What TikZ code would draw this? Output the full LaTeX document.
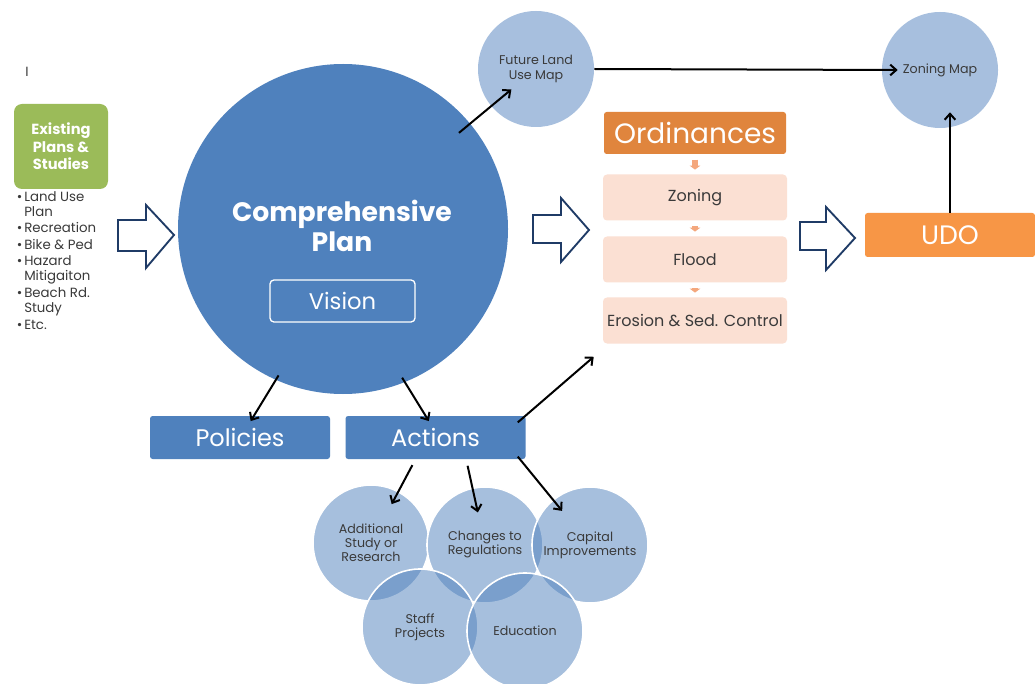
\documentclass[tikz,border=0pt]{standalone}
\usepackage{fontspec}
\setmainfont{Poppins}
\usetikzlibrary{arrows.meta}
\definecolor{planblue}{HTML}{4F81BD}
\definecolor{mapblue}{HTML}{A7BFDE}
\definecolor{studygreen}{HTML}{9BBB59}
\definecolor{ordorange}{HTML}{E0853D}
\definecolor{udoorange}{HTML}{F79646}
\definecolor{ordpeach}{HTML}{FBE0D3}
\definecolor{navyline}{HTML}{1F3B66}
\definecolor{tiporange}{HTML}{F4A77C}
\definecolor{inktext}{HTML}{3A3A3A}
\newcommand{\studybullet}{\llap{\fontsize{10}{10}\selectfont\textbullet\hspace{1.5pt}}}
\tikzset{
  arr/.style={-{Straight Barb[length=4.5pt,width=8pt]}, line width=1.5pt},
  bluebox/.style={fill=planblue, text=white, rounded corners=2pt, minimum width=135pt,
    minimum height=32.25pt, inner sep=0pt, font=\fontsize{18}{20}\selectfont},
  ordbox/.style={fill=ordpeach, text=inktext, rounded corners=3pt, minimum width=138pt,
    minimum height=34.5pt, inner sep=0pt, font=\fontsize{12}{14}\selectfont},
  mapcirc/.style={circle, fill=mapblue, minimum size=87pt, inner sep=0pt, text=inktext,
    align=center, font=\fontsize{9.5}{11.25}\selectfont},
  actcirc/.style={circle, fill=planblue, fill opacity=0.5, text opacity=1, draw=white,
    line width=1.2pt, minimum size=87pt, inner sep=0pt, text=inktext, align=center,
    font=\fontsize{9.5}{10.5}\selectfont},
  hollow/.style={draw=navyline, line width=1.4pt, fill=white, line join=miter},
  ordtip/.style={-{Triangle[length=3pt,width=8pt]}, line width=5pt, draw=tiporange,
    shorten <=4pt, shorten >=3.5pt},
}
\begin{document}
\begin{tikzpicture}[x=0.75pt,y=-0.75pt]
\fill[white] (0,0) rectangle (1035,684);
\useasboundingbox (0,0) rectangle (1035,684);

% left column
\node[text=inktext, font=\fontsize{10}{10}\selectfont] (cursor) at (27,72) {I};
\node[fill=studygreen, rounded corners=6pt, minimum width=70.5pt, minimum height=63.75pt,
  inner sep=0pt, text=white, align=center, font=\bfseries\fontsize{11}{13}\selectfont]
  (exist) at (61,146.5) {Existing\\Plans \&\\Studies};
\node[anchor=north west, align=left, inner sep=0pt, text=inktext,
  font=\fontsize{10}{11.25}\selectfont] (studies) at (24,191)
  {\studybullet Land Use\\Plan\\[1.2pt]\studybullet Recreation\\[1.2pt]\studybullet Bike \& Ped\\[1.2pt]
   \studybullet Hazard\\Mitigaiton\\[1.2pt]\studybullet Beach Rd.\\Study\\[1.2pt]\studybullet Etc.};

% comprehensive plan
\node[circle, fill=planblue, minimum size=247.5pt, inner sep=0pt] (comp) at (343,229) {};
\node[text=white, align=center, font=\bfseries\fontsize{20}{22.5}\selectfont]
  (comptitle) at (342,226) {Comprehensive\\Plan};
\node[draw=white, line width=1pt, rounded corners=3pt, minimum width=108.75pt,
  minimum height=31.5pt, inner sep=0pt, text=white, font=\fontsize{17}{20}\selectfont]
  (vision) at (342.5,301) {Vision};
\node[bluebox] (pol) at (240,437.5) {Policies};
\node[bluebox] (act) at (435.5,437.5) {Actions};

% maps
\node[mapcirc] (fut) at (536,69) {Future Land\\Use Map};
\node[mapcirc] (zmap) at (940,70) {Zoning Map};

% ordinances
\node[fill=ordorange, rounded corners=2pt, minimum width=136.5pt, minimum height=31.5pt,
  inner sep=0pt, text=white, font=\fontsize{21}{24}\selectfont] (ord) at (695,133) {Ordinances};
\node[ordbox] (zon) at (695,197.5) {Zoning};
\node[ordbox] (flood) at (695,259.5) {Flood};
\node[ordbox] (ero) at (695,320.5) {Erosion \& Sed. Control};
\foreach \a/\b in {ord/zon,zon/flood,flood/ero} {
  \draw[ordtip] (\a.south) -- (\b.north);
}
\node[fill=udoorange, rounded corners=2pt, minimum width=127.5pt, minimum height=33pt,
  inner sep=0pt, text=white, font=\fontsize{20}{22}\selectfont] (udo) at (950,235) {UDO};

% block arrows
\draw[hollow] (118,220) -- (146,220) -- (146,205) -- (174,235) -- (146,268) -- (146,251) -- (118,251) -- cycle;
\draw[hollow] (533,215) -- (561,215) -- (561,198) -- (589,230) -- (561,262) -- (561,243) -- (533,243) -- cycle;
\draw[hollow] (800,222) -- (826,222) -- (826,207) -- (855,238) -- (826,270) -- (826,250) -- (800,250) -- cycle;

% actions
\node[actcirc] (addl) at (371,543) {Additional\\Study or\\Research};
\node[actcirc] (chg) at (485,545) {Changes to\\Regulations};
\node[actcirc] (cap) at (590,545) {Capital\\Improvements};
\node[actcirc] (staff) at (420,627) {Staff\\Projects};
\node[actcirc] (edu) at (525,631) {Education};

% connectors
\draw[arr, shorten <=113pt, shorten >=24pt] (comp.center) -- (fut.center);
\draw[arr] (fut.east) -- ([xshift=12pt]zmap.west);
\draw[arr, shorten >=-12pt] (udo.north) -- (udo.north |- zmap.south);
\draw[arr, shorten <=-4pt] (comp.246) -- ([xshift=8pt,yshift=-4pt]pol.north);
\draw[arr, shorten <=-4pt] (comp.292) -- ([xshift=-5pt,yshift=-4pt]act.north);
\draw[arr] ([xshift=-6pt,yshift=-5pt]act.north east) -- ([xshift=-6.75pt,yshift=-9.75pt]ero.south west);
\draw[arr, shorten <=5pt, shorten >=33pt] ([xshift=-15pt]act.south) -- (addl.center);
\draw[arr, shorten <=5pt, shorten >=25pt] ([xshift=23pt]act.south) -- (chg.center);
\draw[arr, shorten >=33pt] ([xshift=-6pt,yshift=2pt]act.south east) -- (cap.center);
\end{tikzpicture}
\end{document}
